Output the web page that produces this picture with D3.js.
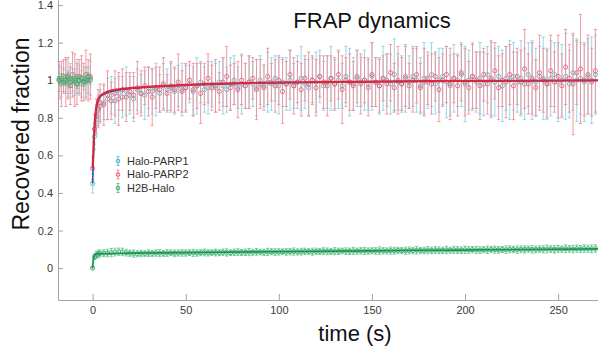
<!DOCTYPE html>
<html>
<head>
<meta charset="utf-8">
<script src="https://cdn.jsdelivr.net/npm/d3@7"></script>
<style>
  html, body { margin: 0; padding: 0; background: #fff; }
  svg { display: block; font-family: "Liberation Sans", Arial, sans-serif; }
  .axis text { fill: #3a3a3a; font-size: 11px; }
  .axis path, .axis line { stroke: #a3a3a3; }
</style>
</head>
<body>
<svg id="chart" width="598" height="349"></svg>
<script>
// sampling times (s): pre-bleach then post-bleach
const preTime = [-18, -16.8, -15.6, -14.4, -13.2, -12, -10.8, -9.6, -8.4, -7.2, -6, -4.8, -3.6, -2.4, -1.2]
const postTime = [0, 1, 2, 3, 4,
  6, 8, 10, 12, 14, 16, 18, 20, 22, 24,
  26, 28, 30, 32, 34, 36, 38, 40, 42, 44,
  46, 48, 50, 52, 54, 56, 58, 60, 62, 64,
  66, 68, 70, 72, 74, 76, 78, 80, 82, 84,
  86, 88, 90, 92, 94, 96, 98, 100, 102, 104,
  106, 108, 110, 112, 114, 116, 118, 120, 122, 124,
  126, 128, 130, 132, 134, 136, 138, 140, 142, 144,
  146, 148, 150, 152, 154, 156, 158, 160, 162, 164,
  166, 168, 170, 172, 174, 176, 178, 180, 182, 184,
  186, 188, 190, 192, 194, 196, 198, 200, 202, 204,
  206, 208, 210, 212, 214, 216, 218, 220, 222, 224,
  226, 228, 230, 232, 234, 236, 238, 240, 242, 244,
  246, 248, 250, 252, 254, 256, 258, 260, 262, 264,
  266, 268, 270]
const time = preTime.concat(postTime)

// Halo-PARP1 (cyan)
const parp1Mean = [1.01, 0.99, 1.00, 1.02, 0.98, 1.01, 1.00, 0.99, 1.02, 1.00, 0.98, 1.01, 0.99, 1.00, 1.01,
  0.45, 0.70, 0.79, 0.84, 0.86,
  0.88, 0.90, 0.92, 0.89, 0.93, 0.91, 0.94, 0.92, 0.90, 0.95,
  0.93, 0.92, 0.96, 0.94, 0.95, 0.93, 0.97, 0.95, 0.96, 0.94,
  0.97, 0.95, 0.96, 0.98, 0.94, 0.97, 0.99, 0.95, 0.96, 0.98,
  0.96, 0.99, 0.97, 0.95, 0.98, 1.00, 0.96, 0.98, 0.97, 0.99,
  0.98, 0.96, 1.00, 0.97, 0.99, 0.98, 1.01, 0.97, 0.99, 0.98,
  1.00, 0.97, 0.99, 1.01, 0.98, 0.96, 1.00, 0.99, 1.02, 0.97,
  0.99, 1.01, 0.98, 1.00, 0.97, 1.02, 0.99, 0.98, 1.01, 0.99,
  1.00, 0.98, 1.02, 0.99, 0.97, 1.01, 1.00, 0.98, 1.03, 0.99,
  0.98, 1.01, 0.99, 1.02, 1.00, 0.97, 1.01, 0.99, 1.03, 0.98,
  1.00, 1.02, 0.99, 0.97, 1.01, 1.00, 1.03, 0.98, 1.00, 1.02,
  0.99, 1.01, 0.98, 1.03, 1.00, 0.99, 1.02, 0.97, 1.01, 1.00,
  1.02, 0.99, 1.01, 0.98, 1.03, 1.00, 0.99, 1.02, 1.01, 0.98,
  1.01, 1.03, 0.99, 1.00, 1.02, 0.98, 1.04, 1.00, 1.01, 0.99,
  1.02, 1.00, 1.03]
const parp1Err = [0.07, 0.08, 0.06, 0.09, 0.07, 0.08, 0.06, 0.07, 0.09, 0.08, 0.07, 0.06, 0.08, 0.07, 0.09,
  0.05, 0.07, 0.08, 0.08, 0.09,
  0.09, 0.11, 0.10, 0.12, 0.09, 0.11, 0.13, 0.10, 0.12, 0.11,
  0.10, 0.13, 0.11, 0.12, 0.14, 0.10, 0.12, 0.11, 0.13, 0.12,
  0.11, 0.14, 0.12, 0.10, 0.13, 0.15, 0.11, 0.12, 0.14, 0.12,
  0.13, 0.11, 0.15, 0.12, 0.14, 0.13, 0.11, 0.16, 0.12, 0.14,
  0.12, 0.15, 0.13, 0.11, 0.16, 0.14, 0.12, 0.15, 0.13, 0.14,
  0.16, 0.12, 0.14, 0.17, 0.13, 0.15, 0.12, 0.16, 0.14, 0.13,
  0.14, 0.17, 0.13, 0.15, 0.12, 0.16, 0.18, 0.14, 0.15, 0.13,
  0.16, 0.14, 0.18, 0.13, 0.15, 0.17, 0.14, 0.16, 0.19, 0.15,
  0.15, 0.18, 0.14, 0.16, 0.17, 0.15, 0.19, 0.14, 0.17, 0.16,
  0.17, 0.15, 0.19, 0.16, 0.18, 0.14, 0.17, 0.20, 0.16, 0.18,
  0.16, 0.19, 0.17, 0.15, 0.20, 0.18, 0.16, 0.19, 0.17, 0.21,
  0.18, 0.16, 0.20, 0.19, 0.17, 0.21, 0.18, 0.16, 0.22, 0.19,
  0.20, 0.17, 0.21, 0.19, 0.23, 0.18, 0.20, 0.22, 0.19, 0.21,
  0.20, 0.23, 0.21]

// Halo-PARP2 (red)
const parp2Mean = [1.00, 0.98, 1.02, 0.99, 1.01, 0.97, 1.03, 1.00, 0.98, 1.02, 1.01, 0.99, 1.03, 1.00, 1.02,
  0.53, 0.74, 0.81, 0.85, 0.88,
  0.87, 0.92, 0.89, 0.93, 0.90, 0.95, 0.91, 0.94, 0.92, 0.96,
  0.93, 0.97, 0.94, 0.91, 0.96, 0.95, 0.98, 0.93, 0.97, 0.95,
  0.99, 0.94, 0.96, 1.00, 0.95, 0.97, 0.93, 0.98, 1.01, 0.96,
  0.97, 0.94, 0.99, 1.02, 0.96, 0.98, 0.95, 1.00, 0.97, 0.99,
  1.01, 0.95, 0.98, 0.96, 1.02, 0.99, 0.97, 1.00, 0.94, 0.98,
  1.03, 0.97, 0.99, 0.95, 1.01, 0.98, 1.00, 0.96, 1.02, 0.99,
  0.97, 1.01, 0.98, 1.03, 0.95, 1.00, 0.99, 0.97, 1.02, 0.98,
  1.00, 0.96, 1.03, 0.99, 0.97, 1.01, 0.98, 1.04, 0.96, 1.00,
  0.98, 1.02, 0.97, 1.00, 1.03, 0.96, 0.99, 1.01, 0.98, 1.02,
  0.95, 1.00, 1.03, 0.98, 1.01, 0.97, 1.04, 0.99, 0.96, 1.02,
  1.00, 0.97, 1.03, 0.98, 1.01, 1.05, 0.96, 1.00, 0.99, 1.03,
  0.97, 1.02, 0.99, 1.06, 0.98, 1.01, 0.96, 1.04, 1.00, 0.98,
  1.05, 0.99, 1.02, 0.97, 1.07, 1.01, 0.98, 1.04, 1.06, 1.00,
  1.03, 0.99, 1.05]
const parp2Err = [0.10, 0.12, 0.09, 0.13, 0.11, 0.10, 0.12, 0.14, 0.11, 0.09, 0.12, 0.10, 0.13, 0.11, 0.12,
  0.06, 0.08, 0.09, 0.10, 0.10,
  0.11, 0.13, 0.10, 0.12, 0.14, 0.11, 0.13, 0.10, 0.12, 0.14,
  0.12, 0.10, 0.13, 0.15, 0.11, 0.12, 0.14, 0.10, 0.13, 0.12,
  0.15, 0.11, 0.13, 0.10, 0.14, 0.12, 0.16, 0.11, 0.13, 0.12,
  0.14, 0.10, 0.13, 0.16, 0.12, 0.11, 0.15, 0.13, 0.12, 0.14,
  0.11, 0.16, 0.13, 0.12, 0.15, 0.10, 0.14, 0.13, 0.17, 0.12,
  0.13, 0.15, 0.11, 0.14, 0.12, 0.17, 0.13, 0.15, 0.11, 0.14,
  0.16, 0.12, 0.14, 0.13, 0.18, 0.12, 0.15, 0.13, 0.14, 0.16,
  0.12, 0.15, 0.17, 0.13, 0.14, 0.12, 0.16, 0.15, 0.13, 0.18,
  0.14, 0.16, 0.12, 0.17, 0.15, 0.13, 0.18, 0.14, 0.16, 0.13,
  0.17, 0.14, 0.15, 0.19, 0.13, 0.16, 0.15, 0.18, 0.14, 0.17,
  0.15, 0.18, 0.14, 0.16, 0.20, 0.15, 0.17, 0.14, 0.19, 0.16,
  0.18, 0.15, 0.17, 0.21, 0.16, 0.19, 0.15, 0.20, 0.17, 0.18,
  0.19, 0.16, 0.22, 0.17, 0.20, 0.18, 0.27, 0.17, 0.29, 0.19,
  0.21, 0.18, 0.22]

// H2B-Halo (green)
const h2bMean = [1.00, 1.01, 0.99, 1.00, 1.02, 0.99, 1.00, 1.01, 0.98, 1.00, 1.01, 0.99, 1.00, 1.02, 1.00,
  0.000, 0.060, 0.070, 0.075, 0.078,
  0.079, 0.080, 0.082, 0.085, 0.087, 0.086, 0.082, 0.079, 0.077, 0.076,
  0.078, 0.077, 0.079, 0.078, 0.080, 0.079, 0.078, 0.080, 0.081, 0.079,
  0.080, 0.081, 0.080, 0.082, 0.081, 0.080, 0.082, 0.083, 0.081, 0.082,
  0.083, 0.082, 0.084, 0.083, 0.082, 0.084, 0.085, 0.083, 0.084, 0.085,
  0.084, 0.086, 0.085, 0.084, 0.086, 0.087, 0.085, 0.086, 0.087, 0.086,
  0.087, 0.088, 0.086, 0.087, 0.089, 0.088, 0.087, 0.089, 0.088, 0.090,
  0.089, 0.088, 0.090, 0.089, 0.091, 0.090, 0.089, 0.091, 0.090, 0.092,
  0.091, 0.090, 0.092, 0.091, 0.093, 0.092, 0.091, 0.093, 0.092, 0.094,
  0.093, 0.092, 0.094, 0.093, 0.095, 0.094, 0.093, 0.095, 0.094, 0.096,
  0.095, 0.094, 0.096, 0.095, 0.097, 0.096, 0.095, 0.097, 0.096, 0.098,
  0.097, 0.096, 0.098, 0.097, 0.099, 0.098, 0.097, 0.099, 0.098, 0.100,
  0.099, 0.098, 0.100, 0.099, 0.101, 0.100, 0.099, 0.101, 0.100, 0.102,
  0.101, 0.100, 0.102, 0.101, 0.103, 0.102, 0.101, 0.103, 0.102, 0.104,
  0.103, 0.102, 0.104]
const h2bErr = [0.020, 0.025, 0.018, 0.022, 0.020, 0.024, 0.019, 0.021, 0.023, 0.020, 0.018, 0.022, 0.021, 0.019, 0.020,
  0.005, 0.015, 0.018, 0.020, 0.018,
  0.018, 0.020, 0.022, 0.021, 0.019, 0.020, 0.018, 0.017, 0.019, 0.016,
  0.017, 0.015, 0.018, 0.016, 0.017, 0.019, 0.016, 0.018, 0.015, 0.017,
  0.016, 0.018, 0.017, 0.015, 0.019, 0.017, 0.016, 0.018, 0.017, 0.015,
  0.018, 0.016, 0.017, 0.019, 0.015, 0.017, 0.018, 0.016, 0.017, 0.019,
  0.016, 0.018, 0.015, 0.017, 0.019, 0.016, 0.018, 0.017, 0.015, 0.018,
  0.017, 0.019, 0.016, 0.018, 0.017, 0.015, 0.019, 0.017, 0.016, 0.018,
  0.018, 0.016, 0.019, 0.017, 0.015, 0.018, 0.017, 0.019, 0.016, 0.017,
  0.019, 0.017, 0.016, 0.018, 0.020, 0.017, 0.016, 0.019, 0.018, 0.017,
  0.016, 0.019, 0.018, 0.017, 0.020, 0.016, 0.018, 0.019, 0.017, 0.018,
  0.018, 0.017, 0.020, 0.016, 0.019, 0.018, 0.017, 0.020, 0.018, 0.016,
  0.019, 0.018, 0.016, 0.020, 0.017, 0.019, 0.018, 0.016, 0.020, 0.018,
  0.017, 0.020, 0.018, 0.019, 0.016, 0.020, 0.018, 0.017, 0.019, 0.021,
  0.018, 0.020, 0.019, 0.017, 0.021, 0.018, 0.020, 0.019, 0.018, 0.020,
  0.019, 0.021, 0.020]

// fitted recovery curves
const fitTime = [0, 0.5, 1, 1.5, 2, 3, 4, 6, 10, 17, 30, 50, 80, 120, 180, 272]
const parp1Fit = [0.45, 0.60, 0.72, 0.80, 0.85, 0.89, 0.91, 0.925, 0.94, 0.952, 0.963, 0.973, 0.983, 0.989, 0.994, 0.999]
const parp2Fit = [0.53, 0.66, 0.76, 0.82, 0.86, 0.90, 0.915, 0.93, 0.945, 0.955, 0.965, 0.975, 0.985, 0.990, 0.995, 1.0]
const h2bFitTime = [0, 0.3, 0.7, 1.2, 2, 5, 20, 50, 100, 150, 200, 272]
const h2bFit = [0.0, 0.04, 0.06, 0.07, 0.075, 0.077, 0.079, 0.082, 0.087, 0.092, 0.096, 0.102]

const xTicks = [0, 50, 100, 150, 200, 250]
const yTicks = [0, 0.2, 0.4, 0.6, 0.8, 1, 1.2, 1.4]

const series = [
  { name: 'Halo-PARP1', mean: parp1Mean, err: parp1Err, bar: '#62c4e2', barOpacity: 0.75, dot: '#4fa9c9', fit: parp1Fit, fitT: fitTime, line: '#2b4fb3', lineW: 1.5 },
  { name: 'Halo-PARP2', mean: parp2Mean, err: parp2Err, bar: '#f28e99', barOpacity: 1, dot: '#e5586a', fit: parp2Fit, fitT: fitTime, line: '#d8283e', lineW: 2.1 },
  { name: 'H2B-Halo', mean: h2bMean, err: h2bErr, bar: '#5cc489', barOpacity: 0.9, dot: '#34ab66', fit: h2bFit, fitT: h2bFitTime, line: '#1b9450', lineW: 1.8 },
]

const svg = d3.select('#chart')

const x = d3.scaleLinear().domain([-18.6, 271.4]).range([58, 598])
const y = d3.scaleLinear().domain([-0.17, 1.427]).range([300, 0])

// axes (MATLAB style: ticks pointing inward, no box)
svg.append('g')
  .attr('class', 'axis')
  .attr('transform', 'translate(0,300)')
  .call(d3.axisBottom(x).tickValues(xTicks).tickSizeInner(-6).tickSizeOuter(0).tickPadding(6).tickFormat(d3.format('d')))

svg.append('g')
  .attr('class', 'axis')
  .attr('transform', 'translate(58,0)')
  .call(d3.axisLeft(y).tickValues(yTicks).tickSizeInner(-5).tickSizeOuter(0).tickPadding(5).tickFormat((d) => String(+d.toFixed(1))))

const plot = svg.append('g')

// error bars + markers, cyan under red, green on top
series.forEach((s) => {
  const pts = time.map((t, i) => ({ t, m: s.mean[i], e: s.err[i] }))
  const g = plot.append('g')

  const bars = g.selectAll('g.eb').data(pts).enter().append('g').attr('class', 'eb')
    .attr('stroke', s.bar).attr('stroke-width', 0.9).attr('opacity', s.barOpacity)

  bars.append('line')
    .attr('x1', (d) => x(d.t)).attr('x2', (d) => x(d.t))
    .attr('y1', (d) => y(d.m - d.e)).attr('y2', (d) => y(d.m + d.e))
  bars.append('line')
    .attr('x1', (d) => x(d.t) - 1.6).attr('x2', (d) => x(d.t) + 1.6)
    .attr('y1', (d) => y(d.m + d.e)).attr('y2', (d) => y(d.m + d.e))
  bars.append('line')
    .attr('x1', (d) => x(d.t) - 1.6).attr('x2', (d) => x(d.t) + 1.6)
    .attr('y1', (d) => y(d.m - d.e)).attr('y2', (d) => y(d.m - d.e))

  g.selectAll('circle').data(pts).enter().append('circle')
    .attr('cx', (d) => x(d.t)).attr('cy', (d) => y(d.m))
    .attr('r', 2.1)
    .attr('fill', 'none')
    .attr('stroke', s.dot)
    .attr('stroke-width', 0.8)
})

// fit lines
const fitLine = d3.line().x((d) => x(d[0])).y((d) => y(d[1])).curve(d3.curveMonotoneX)
series.forEach((s) => {
  plot.append('path')
    .datum(s.fitT.map((t, i) => [t, s.fit[i]]))
    .attr('fill', 'none')
    .attr('stroke', s.line)
    .attr('stroke-width', s.lineW)
    .attr('d', fitLine)
})

// legend
const legend = svg.append('g').attr('transform', 'translate(118,161)')
series.forEach((s, i) => {
  const row = legend.append('g').attr('transform', `translate(0,${i * 13.5})`)
  row.append('line').attr('x1', 0).attr('x2', 0).attr('y1', -4.5).attr('y2', 4.5).attr('stroke', s.bar)
  row.append('line').attr('x1', -1.5).attr('x2', 1.5).attr('y1', -4.5).attr('y2', -4.5).attr('stroke', s.bar)
  row.append('line').attr('x1', -1.5).attr('x2', 1.5).attr('y1', 4.5).attr('y2', 4.5).attr('stroke', s.bar)
  row.append('circle').attr('r', 1.8).attr('fill', 'none').attr('stroke', s.dot)
  row.append('text')
    .attr('x', 9).attr('dy', '0.35em')
    .attr('font-size', 11).attr('fill', '#333')
    .text(s.name)
})

// titles
svg.append('text')
  .attr('x', 372).attr('y', 28)
  .attr('text-anchor', 'middle')
  .attr('font-size', 22).attr('fill', '#111')
  .text('FRAP dynamics')

svg.append('text')
  .attr('x', 355).attr('y', 341)
  .attr('text-anchor', 'middle')
  .attr('font-size', 22).attr('fill', '#111')
  .text('time (s)')

svg.append('text')
  .attr('transform', 'translate(29,134) rotate(-90)')
  .attr('text-anchor', 'middle')
  .attr('font-size', 23).attr('fill', '#111')
  .text('Recovered fraction')
</script>
</body>
</html>
